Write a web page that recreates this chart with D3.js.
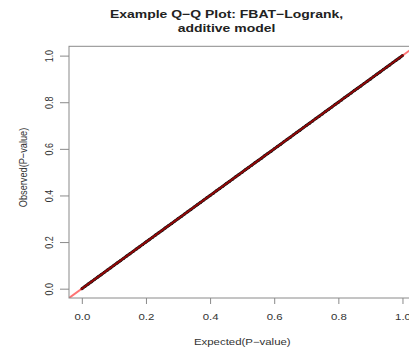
<!DOCTYPE html>
<html>
<head>
<meta charset="utf-8">
<script src="https://cdn.jsdelivr.net/npm/d3@7"></script>
<style>
  body { margin: 0; background: #fff; }
  svg { display: block; font-family: "Liberation Sans", Arial, sans-serif; }
</style>
</head>
<body>
<div id="qq"></div>
<script>
// Q-Q data: expected vs observed p-values (points lie on the diagonal)
var expected = [0.00,0.01,0.02,0.03,0.04,0.05,0.06,0.07,0.08,0.09,
                0.10,0.11,0.12,0.13,0.14,0.15,0.16,0.17,0.18,0.19,
                0.20,0.21,0.22,0.23,0.24,0.25,0.26,0.27,0.28,0.29,
                0.30,0.31,0.32,0.33,0.34,0.35,0.36,0.37,0.38,0.39,
                0.40,0.41,0.42,0.43,0.44,0.45,0.46,0.47,0.48,0.49,
                0.50,0.51,0.52,0.53,0.54,0.55,0.56,0.57,0.58,0.59,
                0.60,0.61,0.62,0.63,0.64,0.65,0.66,0.67,0.68,0.69,
                0.70,0.71,0.72,0.73,0.74,0.75,0.76,0.77,0.78,0.79,
                0.80,0.81,0.82,0.83,0.84,0.85,0.86,0.87,0.88,0.89,
                0.90,0.91,0.92,0.93,0.94,0.95,0.96,0.97,0.98,0.99,1.00];
var observed = [0.00,0.01,0.02,0.03,0.04,0.05,0.06,0.07,0.08,0.09,
                0.10,0.11,0.12,0.13,0.14,0.15,0.16,0.17,0.18,0.19,
                0.20,0.21,0.22,0.23,0.24,0.25,0.26,0.27,0.28,0.29,
                0.30,0.31,0.32,0.33,0.34,0.35,0.36,0.37,0.38,0.39,
                0.40,0.41,0.42,0.43,0.44,0.45,0.46,0.47,0.48,0.49,
                0.50,0.51,0.52,0.53,0.54,0.55,0.56,0.57,0.58,0.59,
                0.60,0.61,0.62,0.63,0.64,0.65,0.66,0.67,0.68,0.69,
                0.70,0.71,0.72,0.73,0.74,0.75,0.76,0.77,0.78,0.79,
                0.80,0.81,0.82,0.83,0.84,0.85,0.86,0.87,0.88,0.89,
                0.90,0.91,0.92,0.93,0.94,0.95,0.96,0.97,0.98,0.99,1.00];
var xTicks = [0, 0.2, 0.4, 0.6, 0.8, 1.0];
var yTicks = [0, 0.2, 0.4, 0.6, 0.8, 1.0];
var titleLines = ["Example Q\u2212Q Plot: FBAT\u2212Logrank,", "additive model"];
var xLabel = "Expected(P\u2212value)";
var yLabel = "Observed(P\u2212value)";

var W = 409, H = 356;
var plotL = 69, plotR = 415.3, plotT = 46.3, plotB = 298;
var sx = 1.27; // the picture is stretched sideways

var svg = d3.select("#qq").append("svg").attr("width", W).attr("height", H);

var x = d3.scaleLinear().domain([-0.04, 1.04]).range([plotL, plotR]);
var y = d3.scaleLinear().domain([-0.04, 1.04]).range([plotB, plotT]);

svg.append("clipPath").attr("id", "plotclip")
  .append("rect").attr("x", plotL).attr("y", plotT)
  .attr("width", plotR - plotL).attr("height", plotB - plotT);

var pts = expected.map(function(e, i) { return [e, observed[i]]; });

var plot = svg.append("g").attr("clip-path", "url(#plotclip)");

// points (dense, so joined as a thick path too)
plot.append("path")
  .datum(pts)
  .attr("fill", "none")
  .attr("stroke", "#111")
  .attr("stroke-width", 3)
  .attr("d", d3.line().x(function(d) { return x(d[0]); }).y(function(d) { return y(d[1]); }));
plot.selectAll("circle")
  .data(pts)
  .enter()
  .append("circle")
  .attr("cx", function(d) { return x(d[0]); })
  .attr("cy", function(d) { return y(d[1]); })
  .attr("r", 1.5)
  .attr("fill", "#111");

// abline y = x, red with alpha
plot.append("line")
  .attr("x1", x(-0.04)).attr("y1", y(-0.04))
  .attr("x2", x(1.04)).attr("y2", y(1.04))
  .attr("stroke", "#ff0000")
  .attr("stroke-opacity", 0.55)
  .attr("stroke-width", 2);

// box
svg.append("rect")
  .attr("x", plotL).attr("y", plotT)
  .attr("width", plotR - plotL).attr("height", plotB - plotT)
  .attr("fill", "none").attr("stroke", "#8a8a8a").attr("stroke-width", 1);

// x axis
var gx = svg.append("g")
  .attr("transform", "translate(0," + plotB + ")")
  .call(d3.axisBottom(x).tickValues(xTicks).tickSize(6).tickFormat(d3.format(".1f")));
gx.select(".domain").remove();
gx.selectAll("line").attr("stroke", "#8a8a8a");
gx.selectAll("text")
  .attr("y", null).attr("dy", null)
  .attr("transform", "translate(0,22) scale(" + sx + ",1)")
  .attr("fill", "#333").attr("font-size", 9);
gx.attr("font-family", null);

// y axis
var gy = svg.append("g")
  .attr("transform", "translate(" + plotL + ",0)")
  .call(d3.axisLeft(y).tickValues(yTicks).tickSize(9).tickFormat(d3.format(".1f")));
gy.select(".domain").remove();
gy.selectAll("line").attr("stroke", "#8a8a8a");
gy.selectAll("text")
  .attr("x", null).attr("dy", null)
  .attr("text-anchor", "middle")
  .attr("transform", "translate(-16,0) rotate(-90) scale(1," + sx + ")")
  .attr("fill", "#333").attr("font-size", 9);
gy.attr("font-family", null);

// title
svg.selectAll(".title")
  .data(titleLines)
  .enter()
  .append("text")
  .attr("class", "title")
  .attr("text-anchor", "middle")
  .attr("transform", function(d, i) { return "translate(226.5," + (18 + i * 14) + ") scale(" + sx + ",1)"; })
  .attr("font-size", 11)
  .attr("font-weight", "bold")
  .attr("fill", "#222")
  .text(function(d) { return d; });

// axis labels
svg.append("text")
  .attr("text-anchor", "middle")
  .attr("transform", "translate(242.3,344.7) scale(" + sx + ",1)")
  .attr("font-size", 9)
  .attr("fill", "#333")
  .text(xLabel);

svg.append("text")
  .attr("text-anchor", "middle")
  .attr("transform", "translate(27,167.5) rotate(-90) scale(1," + sx + ")")
  .attr("font-size", 9.2)
  .attr("fill", "#333")
  .text(yLabel);
</script>
</body>
</html>
